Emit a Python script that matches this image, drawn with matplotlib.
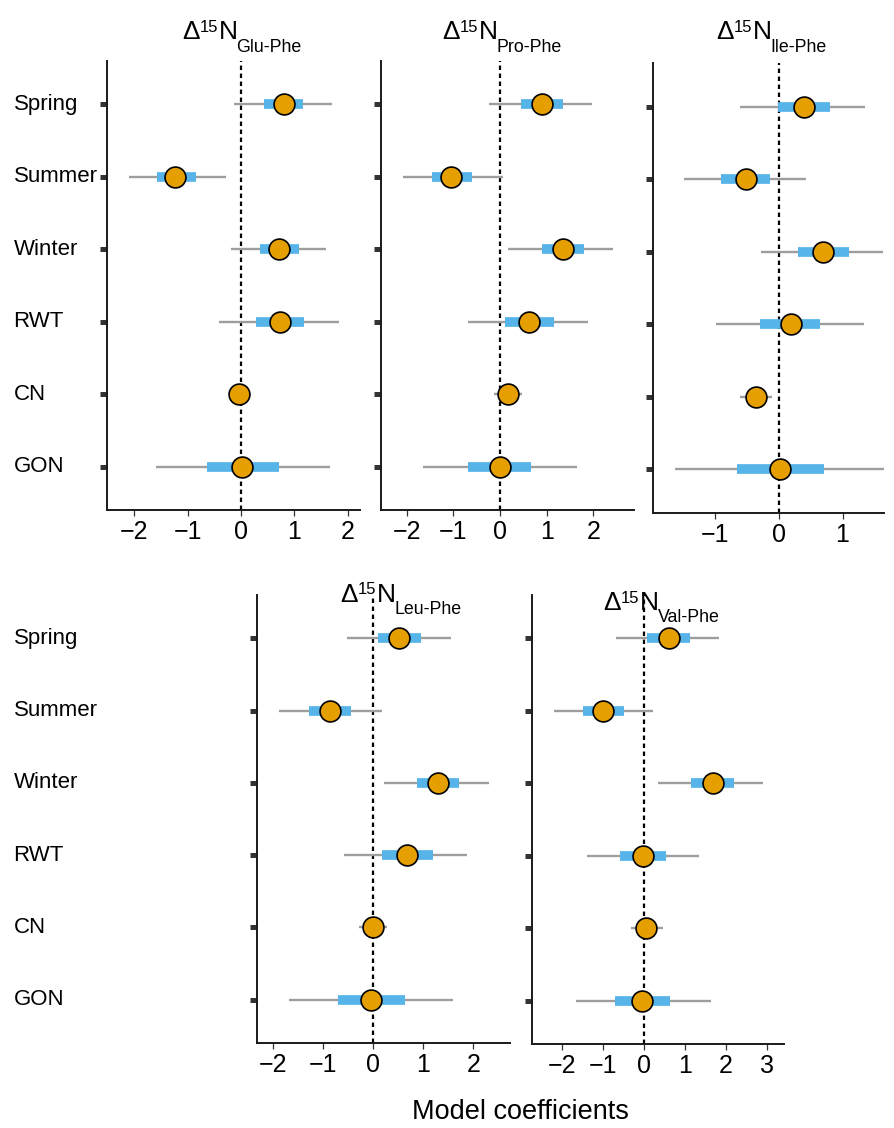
import matplotlib
matplotlib.use("Agg")
import matplotlib.pyplot as plt
from matplotlib.transforms import blended_transform_factory

W, H = 895, 1128
plt.rcParams["font.family"] = ["Liberation Sans", "DejaVu Sans"]

categories = ["Spring", "Summer", "Winter", "RWT", "CN", "GON"]

# point estimate, inner (blue) interval, outer (grey) interval
glu_est = [0.81, -1.23, 0.72, 0.74, -0.03, 0.02]
glu_inner = [(0.43, 1.17), (-1.58, -0.85), (0.36, 1.08), (0.29, 1.19), (-0.08, 0.03), (-0.63, 0.71)]
glu_outer = [(-0.13, 1.71), (-2.10, -0.28), (-0.19, 1.60), (-0.41, 1.83), (-0.15, 0.10), (-1.59, 1.66)]

pro_est = [0.90, -1.04, 1.34, 0.63, 0.16, -0.01]
pro_inner = [(0.45, 1.34), (-1.46, -0.59), (0.89, 1.79), (0.10, 1.15), (0.02, 0.30), (-0.68, 0.67)]
pro_outer = [(-0.24, 1.97), (-2.08, 0.07), (0.18, 2.41), (-0.69, 1.88), (-0.13, 0.48), (-1.64, 1.64)]

ile_est = [0.39, -0.52, 0.70, 0.19, -0.36, 0.02]
ile_inner = [(-0.01, 0.80), (-0.91, -0.14), (0.31, 1.10), (-0.29, 0.65), (-0.46, -0.26), (-0.65, 0.71)]
ile_outer = [(-0.61, 1.36), (-1.48, 0.43), (-0.27, 1.63), (-0.98, 1.33), (-0.61, -0.10), (-1.63, 1.66)]

leu_est = [0.51, -0.87, 1.30, 0.68, -0.01, -0.05]
leu_inner = [(0.09, 0.95), (-1.28, -0.45), (0.88, 1.72), (0.18, 1.19), (-0.10, 0.10), (-0.70, 0.63)]
leu_outer = [(-0.53, 1.55), (-1.88, 0.18), (0.22, 2.31), (-0.59, 1.88), (-0.28, 0.27), (-1.68, 1.59)]

val_est = [0.61, -0.99, 1.69, -0.02, 0.06, -0.03]
val_inner = [(0.09, 1.12), (-1.47, -0.49), (1.16, 2.21), (-0.57, 0.54), (-0.10, 0.22), (-0.69, 0.65)]
val_outer = [(-0.68, 1.84), (-2.19, 0.23), (0.35, 2.92), (-1.39, 1.34), (-0.32, 0.48), (-1.64, 1.63)]

subs = ["Glu-Phe", "Pro-Phe", "Ile-Phe", "Leu-Phe", "Val-Phe"]
xticks = [[-2, -1, 0, 1, 2], [-2, -1, 0, 1, 2], [-1, 0, 1], [-2, -1, 0, 1, 2], [-2, -1, 0, 1, 2, 3]]

GREY = "#9E9E9E"
BLUE = "#56B4E9"
ORANGE = "#E69F00"

fig = plt.figure(figsize=(W / 100, H / 100), dpi=100)


def add_ax(left, top, right, bottom):
    return fig.add_axes([left / W, 1 - bottom / H, (right - left) / W, (bottom - top) / H])


def draw_panel(ax, est, inner, outer, xlim, ticks, labels):
    n = len(categories)
    for i in range(n):
        y = n - 1 - i
        ax.plot(outer[i], [y, y], color=GREY, lw=1.7, solid_capstyle="butt", zorder=2)
        ax.plot(inner[i], [y, y], color=BLUE, lw=7, solid_capstyle="butt", zorder=3)
        ax.plot(est[i], y, "o", ms=15, mfc=ORANGE, mec="black", mew=1.2, zorder=4)
    ax.axvline(0, color="black", lw=1.6, ls=(0, (2, 1.6)), zorder=1)
    ax.set_xlim(*xlim)
    ax.set_ylim(-0.6, n - 0.4)
    ax.set_xticks(ticks)
    ax.set_yticks(range(n))
    ax.set_yticklabels([])
    for s in ["top", "right"]:
        ax.spines[s].set_visible(False)
    for s in ["left", "bottom"]:
        ax.spines[s].set_linewidth(1.4)
        ax.spines[s].set_color("#1a1a1a")
    ax.tick_params(axis="x", length=4, width=0.9, color="#333333", labelsize=18, pad=3)
    ax.tick_params(axis="y", length=5, width=3.6, color="#333333")
    if labels:
        tr = blended_transform_factory(fig.transFigure, ax.transData)
        for i, c in enumerate(categories):
            ax.text(13.5 / W, n - 1 - i, c, transform=tr, ha="left", va="center", fontsize=16)


def title(x0, base, sub):
    r = fig.canvas.get_renderer()
    pieces = [("Δ", 19, 0, 0), ("15", 12, 7.3, 0.5), ("N", 19, 0, 0), (sub, 12.8, -12.5, -1)]
    cx = x0
    for s, size, dy, dx in pieces:
        cx += dx
        t = fig.text(cx / W, 1 - (base - dy) / H, s, fontsize=size, ha="left", va="baseline")
        bb = t.get_window_extent(renderer=r)
        cx += bb.width


boxes = [(107, 61, 360, 510), (381, 61, 634, 510), (653, 63, 884, 513),
         (257, 595, 510, 1043), (532, 595, 784, 1044)]
xlims = [(-2.51, 2.23), (-2.55, 2.87), (-1.97, 1.65), (-2.32, 2.73), (-2.72, 3.42)]
data = [(glu_est, glu_inner, glu_outer), (pro_est, pro_inner, pro_outer),
        (ile_est, ile_inner, ile_outer), (leu_est, leu_inner, leu_outer),
        (val_est, val_inner, val_outer)]
show_labels = [True, False, False, True, False]
title_pos = [(182, 39), (442, 39), (716, 39), (340, 601.5), (603, 610)]

for k in range(5):
    ax = add_ax(*boxes[k])
    est, inner, outer = data[k]
    draw_panel(ax, est, inner, outer, xlims[k], xticks[k], show_labels[k])

for k in range(5):
    title(title_pos[k][0], title_pos[k][1], subs[k])

fig.text(520 / W, 1 - 1119 / H, "Model coefficients", ha="center", va="baseline", fontsize=19.5)

fig.savefig("out.png", dpi=100)
